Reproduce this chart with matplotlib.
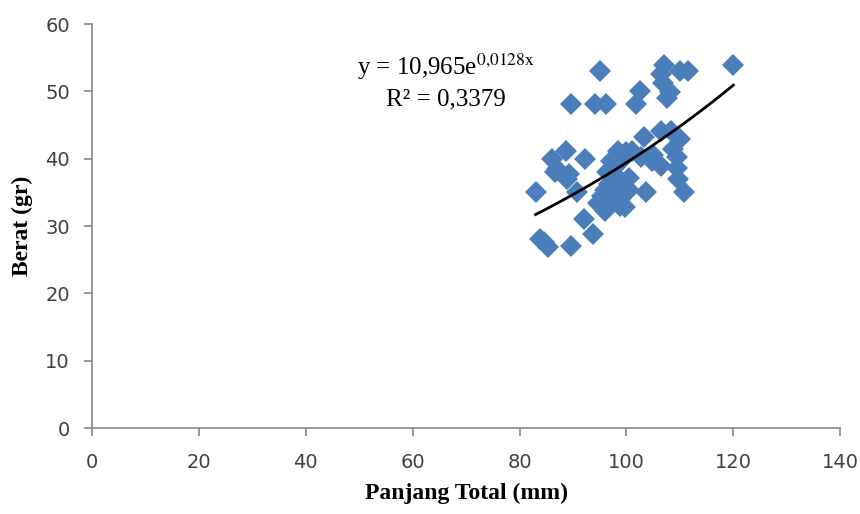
import matplotlib

matplotlib.use("Agg")
import matplotlib.pyplot as plt
import numpy as np

# panjang total (mm) vs berat (gr)
panjang = [
    83.0, 83.9, 84.6, 85.4, 86.0, 86.6, 87.0, 88.6, 88.8, 89.3,
    89.7, 89.7, 90.7, 92.0, 92.3, 93.8, 94.2, 94.6, 94.8, 95.0,
    95.4, 96.0, 96.1, 96.0, 96.4, 97.2, 97.0, 97.6, 98.0, 98.5,
    98.5, 98.8, 99.0, 99.4, 99.8, 100.4, 100.4, 100.0, 101.0, 101.7,
    102.6, 102.8, 103.2, 103.7, 104.7, 105.0, 106.4, 106.5, 106.5, 106.9,
    107.1, 107.5, 108.2, 108.4, 108.8, 109.4, 109.4, 109.7, 110.1, 110.1,
    110.7, 111.6, 120.0, 97.5, 99.2, 96.8,
]
berat = [
    35.0, 28.1, 27.6, 26.9, 40.0, 38.0, 38.5, 41.2, 37.0, 37.8,
    48.2, 27.0, 35.0, 31.1, 40.0, 28.9, 48.2, 33.5, 33.3, 53.1,
    34.5, 32.3, 48.2, 35.3, 38.0, 39.7, 33.5, 36.5, 34.0, 41.2,
    37.2, 33.0, 34.2, 40.0, 32.8, 35.3, 37.2, 41.0, 41.2, 48.2,
    50.1, 40.2, 43.2, 35.0, 39.7, 40.5, 52.6, 44.2, 39.0, 51.3,
    53.9, 49.0, 49.9, 44.2, 41.5, 40.2, 38.7, 37.0, 43.0, 53.1,
    35.0, 53.1, 54.0, 38.5, 36.0, 36.3,
]

eq_a = 10.965
eq_b = 0.0128

fig = plt.figure(figsize=(8.6, 5.14), dpi=100)
ax = fig.add_axes([0.107, 0.167, 0.870, 0.786])

ax.plot(panjang, berat, linestyle="none", marker="D", markersize=11,
        color="#4a7ebb", markeredgewidth=0)

xs = np.linspace(min(panjang), max(panjang), 100)
ax.plot(xs, eq_a * np.exp(eq_b * xs), color="black", linewidth=2)

ax.set_xlim(0, 140)
ax.set_ylim(0, 60)
ax.set_xticks(range(0, 141, 20))
ax.set_yticks(range(0, 61, 10))
for side in ["top", "right"]:
    ax.spines[side].set_visible(False)
for side in ["left", "bottom"]:
    ax.spines[side].set_color("#868686")
    ax.spines[side].set_linewidth(1.2)
ax.tick_params(colors="#868686", labelcolor="#404040", labelsize=14,
               length=6, width=1.2)
ax.tick_params(axis="x", pad=12)
ax.tick_params(axis="y", pad=10)

serif = "Liberation Serif"
ax.set_xlabel("Panjang Total (mm)", fontfamily=serif, fontweight="bold",
              fontsize=17, labelpad=8)
ax.set_ylabel("Berat (gr)", fontfamily=serif, fontweight="bold",
              fontsize=17, labelpad=9)

ax.text(0.473, 0.894, r"y = 10,965e$^{\mathrm{0{,}0128x}}$",
        transform=ax.transAxes, fontfamily=serif, fontsize=18,
        ha="center", va="center", math_fontfamily="stix")
ax.text(0.473, 0.814, "R² = 0,3379", transform=ax.transAxes,
        fontfamily=serif, fontsize=18, ha="center", va="center")

fig.savefig("out.png", dpi=100)
